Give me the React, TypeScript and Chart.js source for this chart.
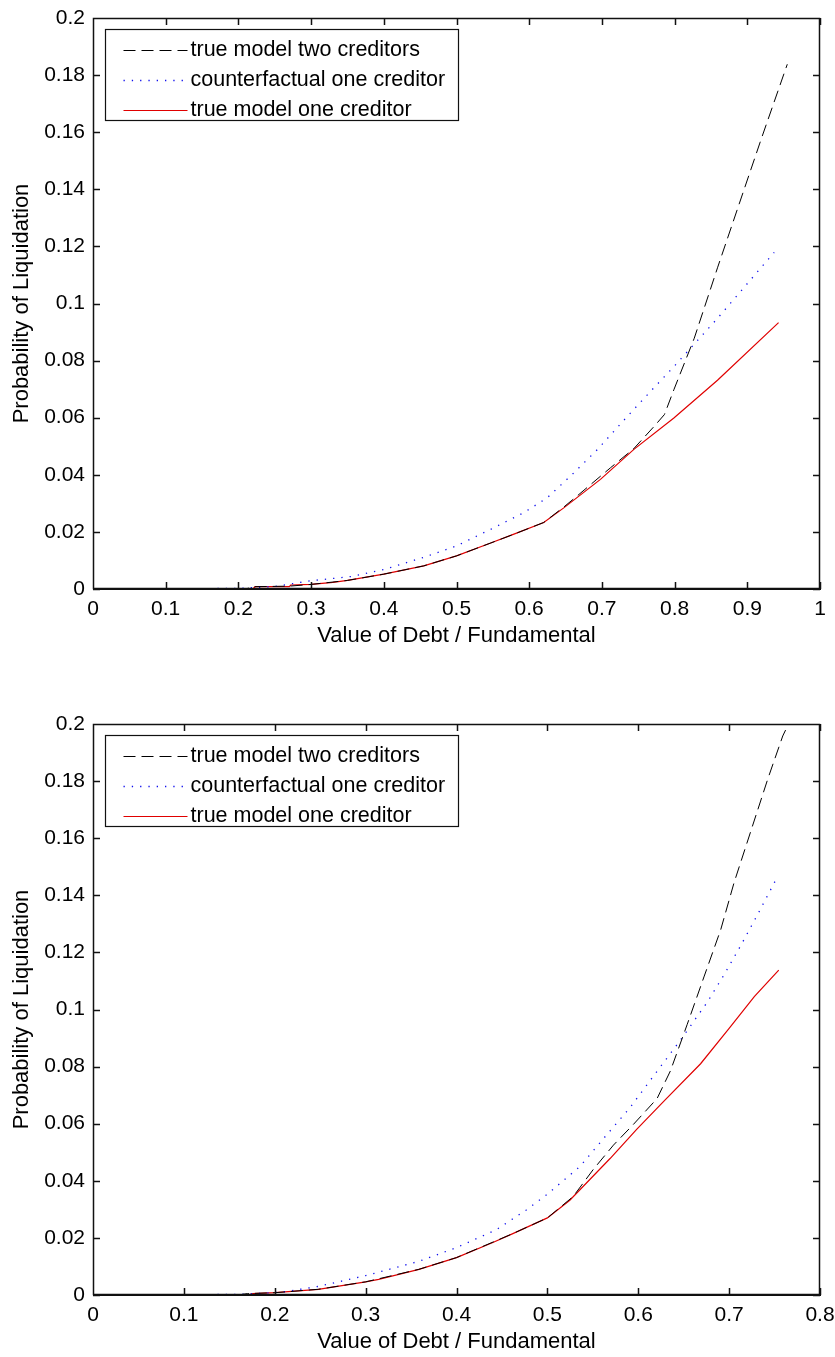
import React, { useEffect, useRef } from "react";
import { Chart, registerables } from "chart.js";

Chart.register(...registerables);

// ---------- labels ----------
const seriesLabels = [
  "true model two creditors",
  "counterfactual one creditor",
  "true model one creditor",
];
const xAxisTitle = "Value of Debt / Fundamental";
const yAxisTitle = "Probability of Liquidation";

// ---------- top panel data ----------
const topTwoX = [0, 0.21, 0.22, 0.27, 0.3, 0.35, 0.4, 0.455, 0.5, 0.547, 0.579, 0.62, 0.648, 0.666, 0.712, 0.744, 0.772, 0.786, 0.799, 0.827, 0.859, 0.919, 0.955];
const topTwoY = [0, 0, 0.0008, 0.001, 0.0016, 0.003, 0.0052, 0.0081, 0.0116, 0.0161, 0.0192, 0.0233, 0.0288, 0.0326, 0.0425, 0.0492, 0.057, 0.0611, 0.0698, 0.0878, 0.1125, 0.1575, 0.1838];

const topCfX = [0, 0.2, 0.25, 0.3, 0.356, 0.4, 0.455, 0.5, 0.547, 0.593, 0.625, 0.659, 0.694, 0.733, 0.765, 0.799, 0.859, 0.916, 0.937];
const topCfY = [0, 0.0002, 0.0009, 0.0029, 0.0044, 0.0068, 0.0111, 0.0151, 0.0209, 0.0268, 0.032, 0.0401, 0.0489, 0.0599, 0.0687, 0.0779, 0.0948, 0.1117, 0.1179];

const topOneX = [0, 0.22, 0.223, 0.27, 0.272, 0.3, 0.33, 0.35, 0.4, 0.455, 0.5, 0.547, 0.579, 0.62, 0.648, 0.698, 0.744, 0.799, 0.859, 0.943];
const topOneY = [0, 0, 0.0008, 0.0008, 0.0014, 0.0016, 0.0023, 0.003, 0.0052, 0.0081, 0.0116, 0.0161, 0.0192, 0.0233, 0.0285, 0.0384, 0.0489, 0.0599, 0.0731, 0.0933];

// ---------- bottom panel data ----------
const botTwoX = [0, 0.16, 0.17, 0.2, 0.248, 0.3, 0.3587, 0.4, 0.462, 0.5, 0.5284, 0.5506, 0.5727, 0.5948, 0.6207, 0.6354, 0.6539, 0.6723, 0.6908, 0.7055, 0.724, 0.7424, 0.759, 0.7664];
const botTwoY = [0, 0, 0.0005, 0.0008, 0.002, 0.0046, 0.009, 0.0131, 0.0215, 0.027, 0.0345, 0.044, 0.0525, 0.0598, 0.0688, 0.0785, 0.0948, 0.1114, 0.128, 0.1445, 0.1626, 0.1806, 0.1958, 0.2007];

const botCfX = [0, 0.16, 0.2076, 0.248, 0.3, 0.3144, 0.3587, 0.4, 0.4435, 0.4768, 0.5, 0.5358, 0.5653, 0.5911, 0.617, 0.6465, 0.676, 0.6945, 0.713, 0.7314, 0.7535];
const botCfY = [0, 0.0002, 0.001, 0.003, 0.0068, 0.008, 0.0118, 0.0166, 0.0228, 0.0298, 0.0353, 0.045, 0.0561, 0.0657, 0.0768, 0.0893, 0.1026, 0.1122, 0.1225, 0.1333, 0.1467];

const botOneX = [0, 0.17, 0.176, 0.2, 0.248, 0.3, 0.3144, 0.3587, 0.4, 0.44, 0.462, 0.5, 0.5247, 0.569, 0.5985, 0.628, 0.6686, 0.7, 0.7277, 0.7546];
const botOneY = [0, 0, 0.0005, 0.0008, 0.002, 0.0046, 0.0055, 0.009, 0.0131, 0.0184, 0.0215, 0.027, 0.0332, 0.0478, 0.0581, 0.0678, 0.081, 0.0934, 0.1045, 0.1138];

// ---------- axis ranges ----------
const topXMax = 1;
const botXMax = 0.8;
const xStep = 0.1;
const yMax = 0.2;
const yStep = 0.02;

const FONT = "'Liberation Sans', Arial, Helvetica, sans-serif";
const RED = "#e00000";

const pts = (xs: number[], ys: number[]) => xs.map((x, i) => ({ x, y: ys[i] }));
const fmt = (v: number | string) => String(Number(Number(v).toFixed(3)));

const matlabPlugin = {
  id: "matlabAxes",
  afterDatasetsDraw(chart: any) {
    const ctx: CanvasRenderingContext2D = chart.ctx;
    const a = chart.chartArea;
    const xs = chart.scales.x;
    const ys = chart.scales.y;
    const L = Math.round(a.left);
    const R = Math.round(a.right);
    const T = Math.round(a.top);
    const B = Math.round(a.bottom);
    ctx.save();
    ctx.globalCompositeOperation = "source-over";
    ctx.globalAlpha = 1;
    ctx.setLineDash([]);
    ctx.lineWidth = 1.5;
    ctx.strokeStyle = "#111";
    ctx.beginPath();
    ctx.rect(L + 0.5, T + 0.5, R - L - 1, B - T - 1);
    // inward ticks on all four sides
    const tl = 7;
    for (const t of xs.ticks) {
      const px = Math.round(xs.getPixelForValue(t.value)) + 0.5;
      ctx.moveTo(px, B);
      ctx.lineTo(px, B - tl);
      ctx.moveTo(px, T);
      ctx.lineTo(px, T + tl);
    }
    for (const t of ys.ticks) {
      const py = Math.round(ys.getPixelForValue(t.value)) + 0.5;
      ctx.moveTo(L, py);
      ctx.lineTo(L + tl, py);
      ctx.moveTo(R, py);
      ctx.lineTo(R - tl, py);
    }
    ctx.stroke();

    // legend box (MATLAB style, inside axes at north-west)
    const bx = L + 12 + 0.5;
    const by = T + 11 + 0.5;
    const bw = 353;
    const bh = 91;
    ctx.fillStyle = "#ffffff";
    ctx.fillRect(bx, by, bw, bh);
    ctx.lineWidth = 1.2;
    ctx.strokeStyle = "#111";
    ctx.strokeRect(bx, by, bw, bh);
    ctx.font = `21.5px ${FONT}`;
    ctx.textBaseline = "middle";
    ctx.textAlign = "left";
    chart.data.datasets.forEach((ds: any, i: number) => {
      const y = Math.round(by + 20 + i * 30) + 0.5;
      ctx.save();
      ctx.strokeStyle = String(ds.borderColor);
      ctx.lineWidth = ds.borderWidth;
      ctx.setLineDash(ds.borderDash || []);
      ctx.beginPath();
      ctx.moveTo(bx + 18, y);
      ctx.lineTo(bx + 82, y);
      ctx.stroke();
      ctx.restore();
      ctx.fillStyle = "#000";
      ctx.fillText(ds.label, bx + 85, y);
    });
    ctx.restore();
  },
};

function makeConfig(
  xMax: number,
  two: { x: number; y: number }[],
  cf: { x: number; y: number }[],
  one: { x: number; y: number }[]
): any {
  const tickFont = { family: FONT, size: 21 };
  const titleFont = { family: FONT, size: 22 };
  return {
    type: "scatter",
    data: {
      datasets: [
        {
          label: seriesLabels[0],
          data: two,
          showLine: true,
          borderColor: "#000000",
          backgroundColor: "#000000",
          borderWidth: 1,
          borderDash: [12, 6],
          pointRadius: 0,
          fill: false,
          tension: 0,
        },
        {
          label: seriesLabels[1],
          data: cf,
          showLine: true,
          borderColor: "#1010ee",
          backgroundColor: "#1010ee",
          borderWidth: 1.3,
          borderDash: [1.3, 7],
          pointRadius: 0,
          fill: false,
          tension: 0,
        },
        {
          label: seriesLabels[2],
          data: one,
          showLine: true,
          borderColor: RED,
          backgroundColor: RED,
          borderWidth: 1.2,
          pointRadius: 0,
          fill: false,
          tension: 0,
        },
      ],
    },
    options: {
      animation: false,
      responsive: true,
      maintainAspectRatio: false,
      events: [],
      layout: { padding: { top: 18, right: 15, left: 0, bottom: 0 } },
      plugins: { legend: { display: false }, tooltip: { enabled: false } },
      scales: {
        x: {
          type: "linear",
          position: "bottom",
          min: 0,
          max: xMax,
          afterFit: (s: any) => {
            s.height = 62;
            s.paddingLeft = 0;
            s.paddingRight = 0;
          },
          grid: { display: false, drawTicks: false, tickLength: 0 },
          border: { display: true, color: "#111", width: 1 },
          ticks: {
            stepSize: xStep,
            padding: 8,
            color: "#000",
            font: tickFont,
            maxRotation: 0,
            autoSkip: false,
            callback: (v: any) => fmt(v),
          },
          title: {
            display: true,
            text: xAxisTitle,
            color: "#000",
            font: titleFont,
            padding: { top: 0, bottom: 2 },
          },
        },
        y: {
          type: "linear",
          position: "left",
          min: 0,
          max: yMax,
          afterFit: (s: any) => {
            s.width = 93;
            s.paddingTop = 0;
            s.paddingBottom = 0;
          },
          grid: { display: false, drawTicks: false, tickLength: 0 },
          border: { display: true, color: "#111", width: 1 },
          ticks: {
            stepSize: yStep,
            padding: 8,
            color: "#000",
            font: tickFont,
            autoSkip: false,
            callback: (v: any) => fmt(v),
          },
          title: {
            display: true,
            text: yAxisTitle,
            color: "#000",
            font: titleFont,
            padding: { top: 9, bottom: 0 },
          },
        },
      },
    },
    plugins: [matlabPlugin],
  };
}

function Panel(props: { top: number; xMax: number; two: any[]; cf: any[]; one: any[] }) {
  const ref = useRef<HTMLCanvasElement | null>(null);
  useEffect(() => {
    if (!ref.current) return;
    const chart = new Chart(ref.current, makeConfig(props.xMax, props.two, props.cf, props.one));
    return () => chart.destroy();
  }, []);
  return (
    <div style={{ position: "absolute", left: 0, top: props.top, width: 835, height: 651 }}>
      <canvas ref={ref} />
    </div>
  );
}

export default function App() {
  return (
    <div
      style={{
        position: "absolute",
        left: 0,
        top: 0,
        width: 835,
        height: 1357,
        overflow: "hidden",
        background: "#fff",
      }}
    >
      <Panel top={0} xMax={topXMax} two={pts(topTwoX, topTwoY)} cf={pts(topCfX, topCfY)} one={pts(topOneX, topOneY)} />
      <Panel top={706} xMax={botXMax} two={pts(botTwoX, botTwoY)} cf={pts(botCfX, botCfY)} one={pts(botOneX, botOneY)} />
    </div>
  );
}
